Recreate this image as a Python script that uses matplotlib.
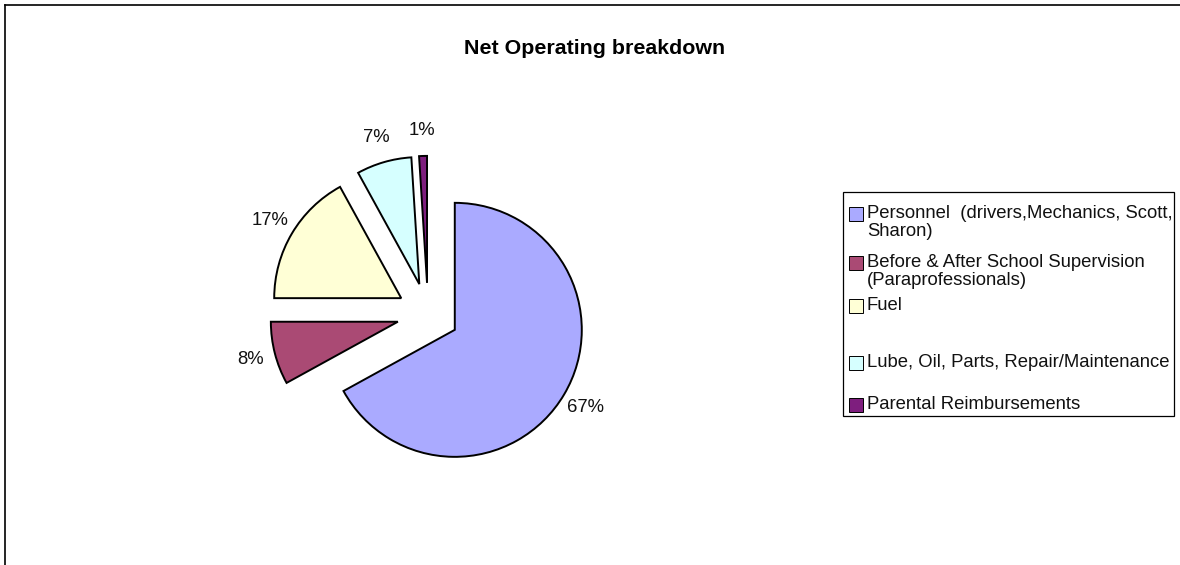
import matplotlib
matplotlib.use('Agg')
import matplotlib.pyplot as plt
from matplotlib.lines import Line2D
from matplotlib.patches import Rectangle

categories = ['Personnel  (drivers,Mechanics, Scott,\nSharon)',
              'Before & After School Supervision\n(Paraprofessionals)',
              'Fuel',
              'Lube, Oil, Parts, Repair/Maintenance',
              'Parental Reimbursements']
shares = [67, 8, 17, 7, 1]
colors = ['#AAAAFF', '#AA4A74', '#FFFFD6', '#D6FFFF', '#7E1E7E']

W, H = 1180, 565
plt.rcParams['font.family'] = ['Liberation Sans', 'DejaVu Sans']

fig = plt.figure(figsize=(W / 100, H / 100), dpi=100)

# pie axes: 1 data unit = pie radius (127 px), centred on the pie centre
r_px = 127
cx, cy = 428, 314
half = 220
ax = fig.add_axes([(cx - half) / W, (H - cy - half) / H, 2 * half / W, 2 * half / H])
wedges, texts, autotexts = ax.pie(
    shares, colors=colors, startangle=90, counterclock=False,
    explode=[0.245] * len(shares), autopct='%1.0f%%', pctdistance=1.2,
    wedgeprops=dict(edgecolor='black', linewidth=1.4),
    textprops=dict(fontsize=13.3, color='#111111'))
ax.set_xlim(-half / r_px, half / r_px)
ax.set_ylim(-half / r_px, half / r_px)
ax.axis('off')

fig.text(595 / W, 1 - 48 / H, 'Net Operating breakdown', ha='center', va='center',
         fontsize=15.4, fontweight='bold')

# outer frame (left and top edges visible)
fig.add_artist(Line2D([5 / W, 1.0], [1 - 5 / H, 1 - 5 / H], color='black', lw=1.2))
fig.add_artist(Line2D([5 / W, 5 / W], [0, 1 - 5 / H], color='black', lw=1.2))

# legend drawn by hand to follow the original spacing
lx0, ly0, lx1, ly1 = 843, 192, 1174, 416
fig.add_artist(Rectangle((lx0 / W, 1 - ly1 / H), (lx1 - lx0) / W, (ly1 - ly0) / H,
                         transform=fig.transFigure, facecolor='none',
                         edgecolor='black', lw=0.9))
row_y = [214, 263, 306, 363, 405]
for lab, col, y in zip(categories, colors, row_y):
    fig.add_artist(Rectangle((849 / W, 1 - (y + 7) / H), 14 / W, 14 / H,
                             transform=fig.transFigure, facecolor=col,
                             edgecolor='black', lw=0.7))
    fig.text(867 / W, 1 - (y - 9) / H, lab, ha='left', va='top', fontsize=13.3,
             color='#111111', linespacing=1.05)

fig.savefig('out.png', dpi=100)
